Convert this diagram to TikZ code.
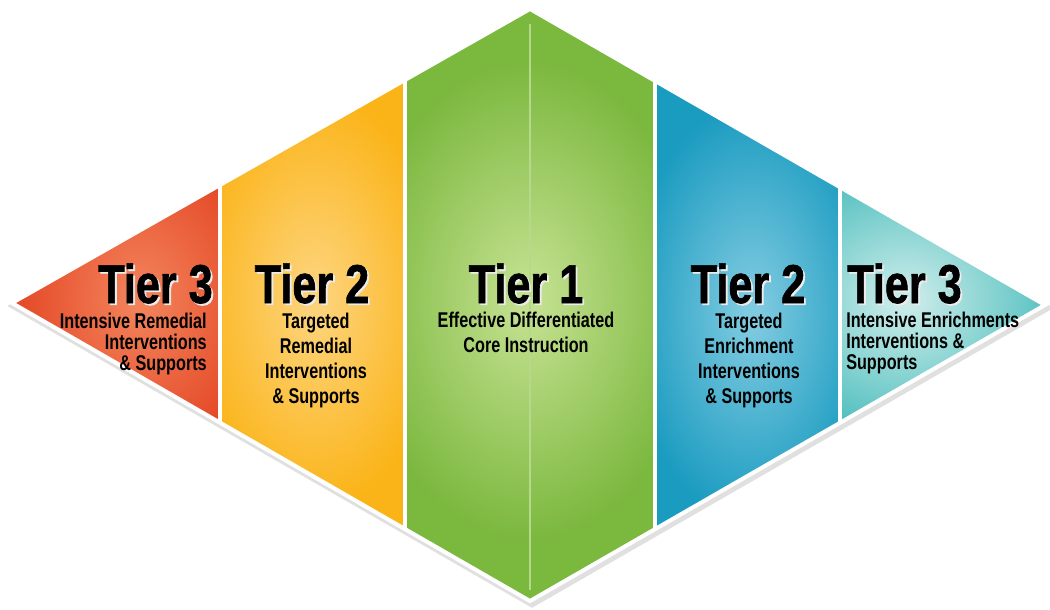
\documentclass[tikz,border=0pt]{standalone}
\usepackage{fontspec}
\setmainfont{Liberation Sans}
\newfontfamily\tierfont[FakeStretch=0.79,FakeBold=1.2]{Liberation Sans Bold}
\newfontfamily\subfont[FakeStretch=0.76]{Liberation Sans Bold}
\usetikzlibrary{positioning}

\definecolor{glowin}{HTML}{FFFFFF}
\definecolor{glowout}{HTML}{000000}
\definecolor{foldline}{HTML}{B5D98A}
\pgfdeclareradialshading[glowin,glowout]{glow}{\pgfpoint{0bp}{0bp}}{color(0bp)=(glowin); color(1.5bp)=(glowin); color(25bp)=(glowout); color(50bp)=(glowout)}

% black title with a light halo to the lower right
\newcommand\glowtext[1]{\rlap{\kern1.4pt\raisebox{-1.4pt}{\textcolor{white!85!gray}{#1}}}#1}

\begin{document}
\begin{tikzpicture}[x=0.75pt,y=-0.75pt,
    tier/.style={font=\tierfont\fontsize{41}{41}\selectfont, inner sep=0pt, text depth=0pt},
    sub/.style={font=\subfont\fontsize{16}{18.8}\selectfont, inner sep=0pt},
    subtight/.style={font=\subfont\fontsize{16}{15.8}\selectfont, inner sep=0pt},
    sep/.style={white, line width=3pt}]
\useasboundingbox (0,0) rectangle (1050,610);

\coordinate (L) at (12,303);
\coordinate (T) at (530,9);
\coordinate (R) at (1045,305);
\coordinate (B) at (530,601);

% soft shadow under the diamond
\draw[black!12, line width=5pt, line join=miter] ([shift={(2,3)}]L) -- ([shift={(2,3)}]T) -- ([shift={(2,3)}]R) -- ([shift={(2,3)}]B) -- cycle;

% five tiers
\foreach \xa/\xb/\cin/\cout/\cx/\cy/\rx/\ry in {
    12/220/F2825A/E54A28/140/300/120/150,
    220/405/FDD37A/FBB418/315/300/125/210,
    405/655/C3E08F/7BB83E/528/300/170/240,
    655/840/7ECAE0/1A9BC0/752/312/125/210,
    840/1045/C8EBE9/4ABDBC/905/300/160/140} {
  \begin{scope}
    \clip (L) -- (T) -- (R) -- (B) -- cycle;
    \definecolor{glowin}{HTML}{\cin}
    \definecolor{glowout}{HTML}{\cout}
    \fill[glowout] (\xa,0) rectangle (\xb,610);
    \clip (\xa,0) rectangle (\xb,610);
    \shade[shading=glow] (\cx-\rx,\cy-\ry) rectangle (\cx+\rx,\cy+\ry);
  \end{scope}
}

% separators and fold
\begin{scope}
  \clip (L) -- (T) -- (R) -- (B) -- cycle;
  \foreach \x in {220,405,655,840}
    \draw[sep] (\x,0) -- (\x,610);
  \draw[foldline, line width=1pt] (530,24) -- (530,590);
\end{scope}
\draw[white, line width=3pt, line join=miter] (L) -- (T) -- (R) -- (B) -- cycle;

% texts
\node[tier, anchor=base east] (t3a) at (213,303) {\glowtext{Tier 3}};
\node[subtight, align=right, anchor=north east] (s3a) at (207,313) {Intensive Remedial\\Interventions\\\& Supports};

\node[tier, anchor=base] (t2a) at (312,303) {\glowtext{Tier 2}};
\node[sub, align=center, anchor=north] (s2a) at (316,313) {Targeted\\Remedial\\Interventions\\\& Supports};

\node[tier, anchor=base] (t1) at (526,303) {\glowtext{Tier 1}};
\node[sub, align=center, anchor=north] (s1) at (526,312) {Effective Differentiated\\Core Instruction};

\node[tier, anchor=base] (t2b) at (748,303) {\glowtext{Tier 2}};
\node[sub, align=center, anchor=north] (s2b) at (749,313) {Targeted\\Enrichment\\Interventions\\\& Supports};

\node[tier, anchor=base west] (t3b) at (847,303) {\glowtext{Tier 3}};
\node[subtight, align=left, anchor=north west] (s3b) at (846,312) {Intensive Enrichments\\Interventions \&\\Supports};
\end{tikzpicture}
\end{document}
